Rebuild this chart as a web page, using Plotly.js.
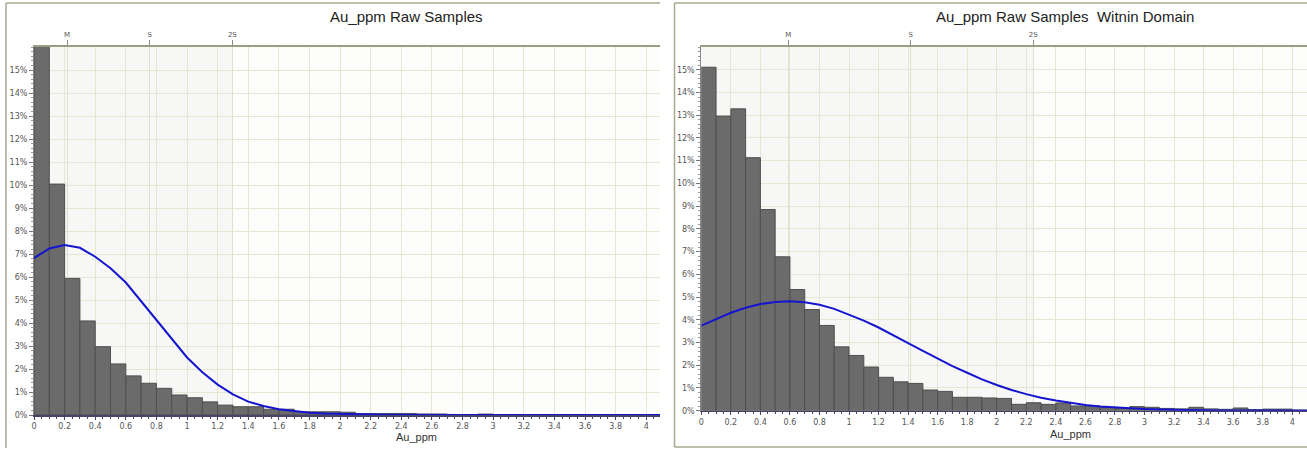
<!DOCTYPE html>
<html>
<head>
<meta charset="utf-8">
<script src="https://cdn.plot.ly/plotly-3.0.1.min.js"></script>
<style>
html,body{margin:0;padding:0;background:#fff;}
#chart{width:1307px;height:449px;}
</style>
</head>
<body>
<div id="chart"></div>
<script>
// ---- data ----
const binStart = [0,0.1,0.2,0.3,0.4,0.5,0.6,0.7,0.8,0.9,1.0,1.1,1.2,1.3,1.4,1.5,1.6,1.7,1.8,1.9,2.0,2.1,2.2,2.3,2.4,2.5,2.6,2.7,2.8,2.9,3.0,3.1,3.2,3.3,3.4,3.5,3.6,3.7,3.8,3.9,4.0];
const binWidth = 0.1;

const rawPct = [16.8,10.04,5.94,4.09,2.97,2.22,1.70,1.38,1.16,0.87,
                0.75,0.57,0.43,0.36,0.36,0.25,0.25,0.14,0.14,0.14,
                0.12,0.06,0.06,0.06,0.06,0.04,0.04,0.01,0.01,0.04,
                0.01,0.01,0.01,0.01,0.01,0.01,0.01,0.01,0,0,0];

const domainPct = [15.11,12.96,13.28,11.13,8.85,6.77,5.33,4.45,3.75,2.81,
                   2.43,1.92,1.47,1.27,1.20,0.91,0.85,0.59,0.59,0.56,
                   0.54,0.28,0.35,0.28,0.34,0.21,0.21,0.15,0.10,0.18,
                   0.15,0.10,0.08,0.15,0.08,0.06,0.12,0.05,0.07,0.07,0.03];

const curveX = [0,0.1,0.2,0.3,0.4,0.5,0.6,0.7,0.8,0.9,1.0,1.1,1.2,1.3,1.4,1.5,1.6,1.7,1.8,1.9,2.0,2.1,2.2,2.3,2.4,2.5,2.6,2.7,2.8,2.9,3.0,3.1,3.2,3.3,3.4,3.5,3.6,3.7,3.8,3.9,4.0,4.1];

const rawCurve = [6.82,7.24,7.39,7.27,6.88,6.38,5.76,4.95,4.13,3.28,2.50,1.86,1.32,0.90,0.58,0.39,0.25,0.17,0.10,0.07,0.05,0.03,0.02,0.01,0.01,0,0,0,0,0,0,0,0,0,0,0,0,0,0,0,0,0];

const domainCurve = [3.74,4.04,4.31,4.53,4.69,4.78,4.81,4.77,4.66,4.48,4.22,3.96,3.66,3.33,2.97,2.63,2.29,1.96,1.67,1.38,1.13,0.91,0.73,0.57,0.45,0.34,0.25,0.19,0.14,0.10,0.07,0.05,0.03,0.02,0.015,0.01,0.01,0,0,0,0,0];

// top statistic markers (M, S, 2S)
const statLabels = ['M','S','2S'];
const rawStats = [0.216,0.756,1.296];
const domainStats = [0.589,1.418,2.247];

const yTicks = [0,1,2,3,4,5,6,7,8,9,10,11,12,13,14,15];
const yTickText = yTicks.map(v => v + '%');

const titleLeft = 'Au_ppm Raw Samples';
const titleRight = 'Au_ppm Raw Samples\u00a0 Witnin Domain';
const xTitle = 'Au_ppm';

// ---- styling ----
const W = 1307, H = 449;
const px = v => v / W;
const py = v => (H - v) / H;

const barColor = '#6b6b6b';
const barLine = '#4f4f4f';
const curveColor = '#1515d0';
const gridColor = '#e6e6d4';
const frameColor = '#a9a98e';
const tickFont = {family: 'DejaVu Sans, Verdana, sans-serif', size: 8, color: '#555'};

function bottomAxis(domain, range, anchor) {
  return {
    domain: domain, range: range, anchor: anchor,
    tick0: 0, dtick: 0.2, ticks: 'outside', ticklen: 3, tickcolor: '#45456a',
    tickfont: tickFont, showgrid: true, gridcolor: gridColor, gridwidth: 1,
    zeroline: false, showline: true, linecolor: '#45456a', linewidth: 1.5,
    minor: {dtick: 0.05, ticks: 'outside', ticklen: 2, tickcolor: '#45456a', showgrid: false},
    fixedrange: true
  };
}
function yAxis(domain, anchor) {
  return {
    domain: domain, range: [0, 16], anchor: anchor,
    tickvals: yTicks, ticktext: yTickText, ticks: 'outside', ticklen: 4, tickcolor: '#777',
    tickfont: tickFont, showgrid: true, gridcolor: gridColor, gridwidth: 1,
    zeroline: false, showline: true, linecolor: '#888', linewidth: 1,
    minor: {dtick: 0.2, ticks: 'outside', ticklen: 2, tickcolor: '#999', showgrid: false},
    fixedrange: true
  };
}
function topAxis(over, anchor, range, vals) {
  return {
    overlaying: over, anchor: anchor, side: 'top', range: range,
    tickvals: vals, ticktext: statLabels, ticks: 'outside', ticklen: 5, tickcolor: '#888',
    tickfont: {family: 'DejaVu Sans, Verdana, sans-serif', size: 7, color: '#555'},
    showgrid: true, gridcolor: '#e0e0d0', gridwidth: 1,
    zeroline: false, showline: true, linecolor: '#9c9c84', linewidth: 2,
    fixedrange: true
  };
}

const leftDomX = [px(34), px(660)];
const rightDomX = [px(701.3), 1];
const leftDomY = [(H - 415) / H, (H - 47) / H];
const rightDomY = [(H - 410.7) / H, (H - 47) / H];
const leftRange = [0, 4.09];
const rightRange = [0, 4.1];

const traces = [
  {type: 'bar', x: binStart, y: rawPct, xaxis: 'x', yaxis: 'y', offset: 0, width: binWidth,
   marker: {color: barColor, line: {color: barLine, width: 1}}, hoverinfo: 'skip'},
  {type: 'scatter', mode: 'lines', x: curveX, y: rawCurve, xaxis: 'x', yaxis: 'y',
   line: {color: curveColor, width: 2}, hoverinfo: 'skip'},
  {type: 'bar', x: binStart, y: domainPct, xaxis: 'x2', yaxis: 'y2', offset: 0, width: binWidth,
   marker: {color: barColor, line: {color: barLine, width: 1}}, hoverinfo: 'skip'},
  {type: 'scatter', mode: 'lines', x: curveX, y: domainCurve, xaxis: 'x2', yaxis: 'y2',
   line: {color: curveColor, width: 2}, hoverinfo: 'skip'},
  {type: 'scatter', mode: 'markers', x: [], y: [], xaxis: 'x3', yaxis: 'y', hoverinfo: 'skip'},
  {type: 'scatter', mode: 'markers', x: [], y: [], xaxis: 'x4', yaxis: 'y2', hoverinfo: 'skip'}
];

const layout = {
  width: W, height: H,
  margin: {l: 0, r: 0, t: 0, b: 0, pad: 0},
  paper_bgcolor: '#ffffff', plot_bgcolor: '#fdfdfb',
  showlegend: false, bargap: 0, barmode: 'overlay',
  xaxis: bottomAxis(leftDomX, leftRange, 'y'),
  yaxis: yAxis(leftDomY, 'x'),
  xaxis2: bottomAxis(rightDomX, rightRange, 'y2'),
  yaxis2: yAxis(rightDomY, 'x2'),
  xaxis3: topAxis('x', 'y', leftRange, rawStats),
  xaxis4: topAxis('x2', 'y2', rightRange, domainStats),
  shapes: [
    // faint shaded band from 0 to 2S
    {type: 'rect', xref: 'x', yref: 'y domain', x0: 0, x1: rawStats[2], y0: 0, y1: 1,
     fillcolor: '#f7f7f6', line: {width: 0}, layer: 'below'},
    {type: 'rect', xref: 'x2', yref: 'y2 domain', x0: 0, x1: domainStats[2], y0: 0, y1: 1,
     fillcolor: '#f7f7f6', line: {width: 0}, layer: 'below'},
    // left panel frame (left + top)
    {type: 'line', xref: 'paper', yref: 'paper', x0: px(6), x1: px(6), y0: py(3), y1: py(448),
     line: {color: frameColor, width: 1.5}},
    {type: 'line', xref: 'paper', yref: 'paper', x0: px(6), x1: px(660), y0: py(3), y1: py(3),
     line: {color: frameColor, width: 1.5}},
    // right panel frame
    {type: 'line', xref: 'paper', yref: 'paper', x0: px(674.5), x1: px(674.5), y0: py(3), y1: py(447),
     line: {color: frameColor, width: 1.5}},
    {type: 'line', xref: 'paper', yref: 'paper', x0: px(674.5), x1: 1, y0: py(3), y1: py(3),
     line: {color: frameColor, width: 1.5}},
    {type: 'line', xref: 'paper', yref: 'paper', x0: px(674.5), x1: 1, y0: py(447), y1: py(447),
     line: {color: frameColor, width: 1.5}}
  ],
  annotations: [
    {xref: 'paper', yref: 'paper', x: px(406), y: py(17), xanchor: 'center', yanchor: 'middle',
     text: titleLeft, showarrow: false,
     font: {family: 'Liberation Sans, Arial, sans-serif', size: 15, color: '#222'}},
    {xref: 'paper', yref: 'paper', x: px(934), y: py(17), xanchor: 'left', yanchor: 'middle',
     text: titleRight, showarrow: false,
     font: {family: 'Liberation Sans, Arial, sans-serif', size: 15, color: '#222'}},
    {xref: 'paper', yref: 'paper', x: px(416), y: py(437), xanchor: 'center', yanchor: 'middle',
     text: xTitle, showarrow: false,
     font: {family: 'Liberation Sans, Arial, sans-serif', size: 11, color: '#333'}},
    {xref: 'paper', yref: 'paper', x: px(1070), y: py(434), xanchor: 'center', yanchor: 'middle',
     text: xTitle, showarrow: false,
     font: {family: 'Liberation Sans, Arial, sans-serif', size: 11, color: '#333'}}
  ]
};

Plotly.newPlot('chart', traces, layout, {displayModeBar: false, staticPlot: true});
</script>
</body>
</html>
